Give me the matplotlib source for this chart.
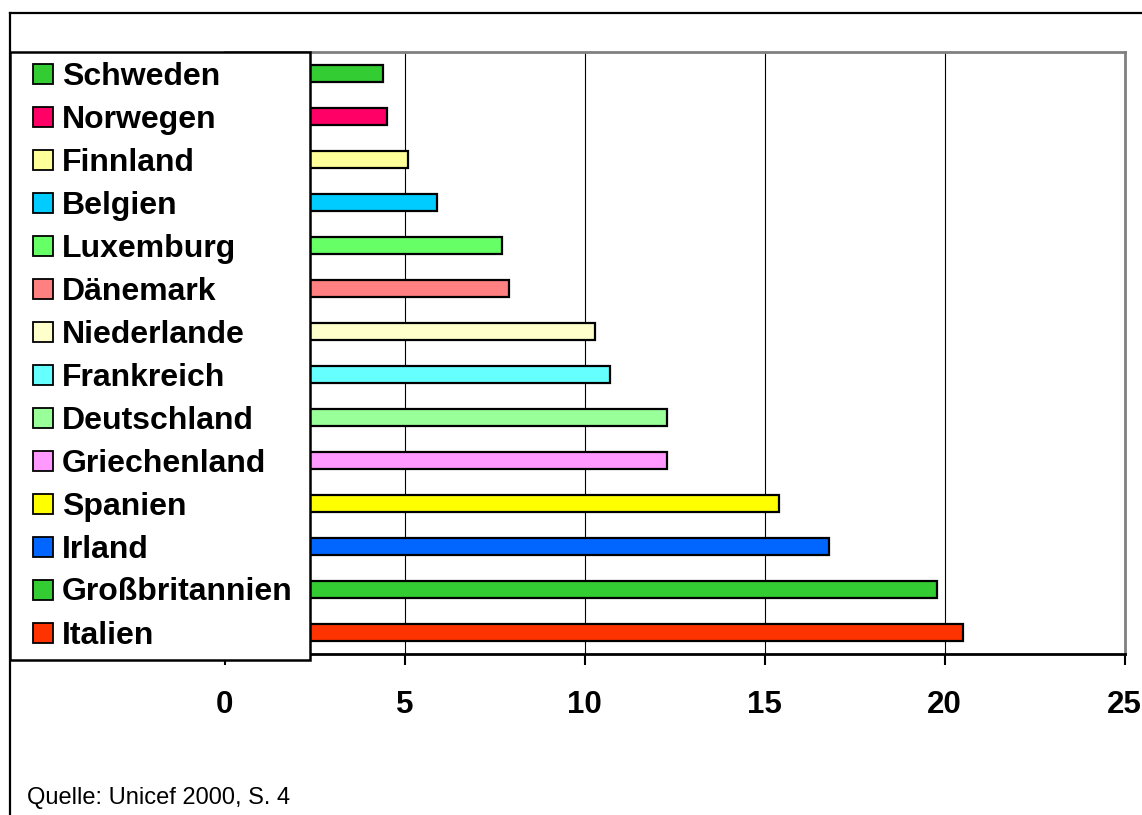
import matplotlib
matplotlib.use("Agg")
import matplotlib.pyplot as plt
from matplotlib.lines import Line2D
from matplotlib.patches import Rectangle
from matplotlib import transforms

plt.rcParams['font.family'] = ['Liberation Sans', 'DejaVu Sans']

# Daten (von oben nach unten)
laender = ["Schweden", "Norwegen", "Finnland", "Belgien", "Luxemburg",
           "Dänemark", "Niederlande", "Frankreich", "Deutschland",
           "Griechenland", "Spanien", "Irland", "Großbritannien", "Italien"]
werte = [4.4, 4.5, 5.1, 5.9, 7.7, 7.9, 10.3, 10.7, 12.3, 12.3, 15.4, 16.8, 19.8, 20.5]
farben = ["#33CC33", "#FF0066", "#FFFF99", "#00CCFF", "#66FF66",
          "#FF8080", "#FFFFCC", "#66FFFF", "#99FF99", "#FF99FF",
          "#FFFF00", "#0066FF", "#33CC33", "#FF3300"]
x_ticks = [0, 5, 10, 15, 20, 25]
quelle = "Quelle: Unicef 2000, S. 4"

W, H = 1142, 815
fig = plt.figure(figsize=(W / 100, H / 100), dpi=100)
ax = fig.add_axes([224.5 / W, (H - 654) / H, 900 / W, 602 / H])

pos = list(range(len(laender)))
ax.barh(pos, werte, height=0.39, color=farben, edgecolor='black', linewidth=1.6, zorder=2)
ax.set_ylim(len(laender) - 0.5, -0.5)
ax.set_xlim(0, 25)
ax.set_yticks([])
ax.set_xticks(x_ticks)
ax.set_xticklabels([str(t) for t in x_ticks], fontsize=22.5, fontweight='bold')
ax.tick_params(axis='x', length=8, width=1.5, pad=18, direction='out')
ax.grid(axis='x', color='black', linewidth=0.8)
ax.set_axisbelow(True)
for s in ['top', 'right']:
    ax.spines[s].set_color('#808080')
    ax.spines[s].set_linewidth(2)
ax.spines['bottom'].set_linewidth(2)
ax.spines['left'].set_visible(False)

# Legende als Kasten links, Zeilen auf Höhe der Balken
fig.add_artist(Rectangle((10 / W, (H - 660) / H), 300 / W, 608 / H,
                         transform=fig.transFigure, facecolor='white',
                         edgecolor='black', linewidth=1.8, zorder=5))
trans = transforms.blended_transform_factory(fig.transFigure, ax.transData)
text_trans = transforms.offset_copy(trans, fig=fig, y=-3, units='dots')
for i, (name, farbe) in enumerate(zip(laender, farben)):
    fig.add_artist(Line2D([42.5 / W], [i], transform=trans, marker='s', markersize=14,
                          markerfacecolor=farbe, markeredgecolor='black',
                          markeredgewidth=1.3, linestyle='none', zorder=6))
    fig.text(62 / W, i, name, transform=text_trans, fontsize=23, fontweight='bold',
             va='center', ha='left', zorder=6)

# äußerer Rahmen
fig.add_artist(Line2D([10 / W, 1], [(H - 13) / H] * 2, transform=fig.transFigure,
                      color='black', linewidth=1.6))
fig.add_artist(Line2D([10 / W] * 2, [0, (H - 13) / H], transform=fig.transFigure,
                      color='black', linewidth=1.6))

fig.text(27 / W, (H - 798) / H, quelle, fontsize=17, va='center', ha='left')

fig.savefig('out.png', dpi=100)
